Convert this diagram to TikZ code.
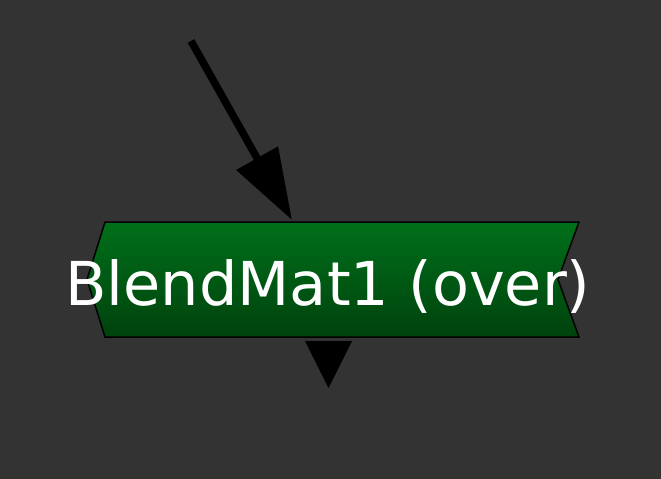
\documentclass[tikz,border=0pt]{standalone}
\usepackage{fontspec}
\setmainfont{DejaVu Sans}
\usepackage{xcolor}
\usetikzlibrary{arrows.meta,calc}
\definecolor{bgray}{HTML}{333333}
\definecolor{gtop}{HTML}{00701A}
\definecolor{gbot}{HTML}{00420D}
\tikzset{
  matbox/.style={draw=black, line width=1.5pt, top color=gtop, bottom color=gbot},
  link/.style={-{Triangle[length=71pt,width=46pt]}, line width=7.5pt, black},
}

\begin{document}
\begin{tikzpicture}[x=1pt,y=-1pt]
 \fill[bgray] (0,0) rectangle (661,479);
 \useasboundingbox (0,0) rectangle (661,479);
 % node frame
 \coordinate (NW) at (105,222);
 \coordinate (NE) at (579,222);
 \coordinate (SE) at (579,337);
 \coordinate (SW) at (105,337);
 \coordinate (W) at (87,279.5);
 \coordinate (E) at (558,279.5);
 \path[matbox] (NW) -- (NE) -- (E) -- (SE) -- (SW) -- (W) -- cycle;
 \node[anchor=base, text=white, inner sep=0pt, font=\fontsize{60.5pt}{72pt}\selectfont] (blend) at (328,305) {BlendMat1 (over)};
 %
 \coordinate (src) at (191,41);
 \coordinate (in) at (292,220);
 \draw[link] (src) -- (in);
 % output
 \coordinate (out) at (328.5,341);
 \fill[black] ($(out)+(-23.5,0)$) -- ($(out)+(23.5,0)$) -- ($(out)+(0,47)$) -- cycle;
\end{tikzpicture}
\end{document}
